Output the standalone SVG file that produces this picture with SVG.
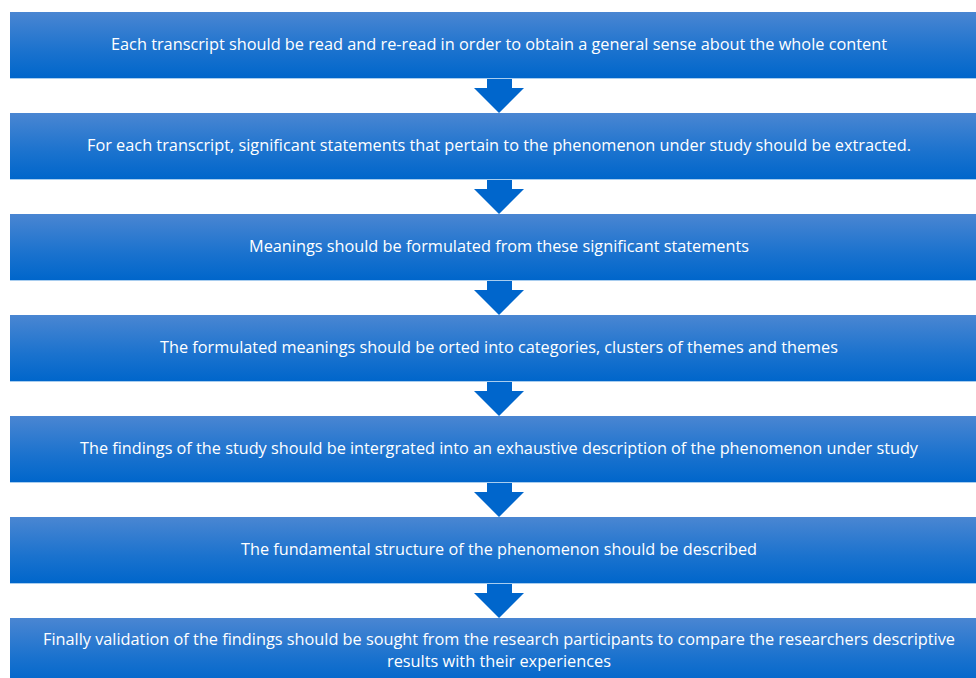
<svg xmlns="http://www.w3.org/2000/svg" width="976" height="678" viewBox="0 0 976 678">
<defs>
<linearGradient id="g" x1="0" y1="0" x2="0" y2="1">
<stop offset="0" stop-color="#4a86d2"/>
<stop offset="0.6" stop-color="#1a72ce"/>
<stop offset="1" stop-color="#0066cb"/>
</linearGradient>
<style>
.box{fill:url(#g);}
.edge{fill:#a8cdef;}
.arr{fill:#0066cc;}
text{font-family:"Open Sans","DejaVu Sans",sans-serif;font-size:16px;fill:#ffffff;text-anchor:middle;}
</style>
</defs>
<rect width="976" height="678" fill="#ffffff"/>
<g id="connectors">
<path class="arr" d="M487 78H512V88H524L499 113L474 88H487Z"/>
<path class="arr" d="M487 179H512V189H524L499 214L474 189H487Z"/>
<path class="arr" d="M487 280H512V290H524L499 315L474 290H487Z"/>
<path class="arr" d="M487 381H512V391H524L499 416L474 391H487Z"/>
<path class="arr" d="M487 482H512V492H524L499 517L474 492H487Z"/>
<path class="arr" d="M487 583H512V593H524L499 618L474 593H487Z"/>
</g>
<g id="step1"><rect class="box" x="10" y="12" width="966" height="66"/><rect class="edge" x="10" y="78" width="966" height="1"/>
<text x="499" y="50" textLength="776" lengthAdjust="spacingAndGlyphs">Each transcript should be read and re-read in order to obtain a general sense about the whole content</text></g>
<g id="step2"><rect class="box" x="10" y="113" width="966" height="66"/><rect class="edge" x="10" y="179" width="966" height="1"/>
<text x="499" y="151" textLength="824" lengthAdjust="spacingAndGlyphs">For each transcript, significant statements that pertain to the phenomenon under study should be extracted.</text></g>
<g id="step3"><rect class="box" x="10" y="214" width="966" height="66"/><rect class="edge" x="10" y="280" width="966" height="1"/>
<text x="499" y="252" textLength="500" lengthAdjust="spacingAndGlyphs">Meanings should be formulated from these significant statements</text></g>
<g id="step4"><rect class="box" x="10" y="315" width="966" height="66"/><rect class="edge" x="10" y="381" width="966" height="1"/>
<text x="499" y="353" textLength="678" lengthAdjust="spacingAndGlyphs">The formulated meanings should be orted into categories, clusters of themes and themes</text></g>
<g id="step5"><rect class="box" x="10" y="416" width="966" height="66"/><rect class="edge" x="10" y="482" width="966" height="1"/>
<text x="499" y="454" textLength="838" lengthAdjust="spacingAndGlyphs">The findings of the study should be intergrated into an exhaustive description of the phenomenon under study</text></g>
<g id="step6"><rect class="box" x="10" y="517" width="966" height="66"/><rect class="edge" x="10" y="583" width="966" height="1"/>
<text x="499" y="555" textLength="516" lengthAdjust="spacingAndGlyphs">The fundamental structure of the phenomenon should be described</text></g>
<g id="step7"><rect class="box" x="10" y="618" width="966" height="66"/>
<text x="499" y="645" textLength="912" lengthAdjust="spacingAndGlyphs">Finally validation of the findings should be sought from the research participants to compare the researchers descriptive</text>
<text x="499" y="667" textLength="224" lengthAdjust="spacingAndGlyphs">results with their experiences</text></g>
</svg>
